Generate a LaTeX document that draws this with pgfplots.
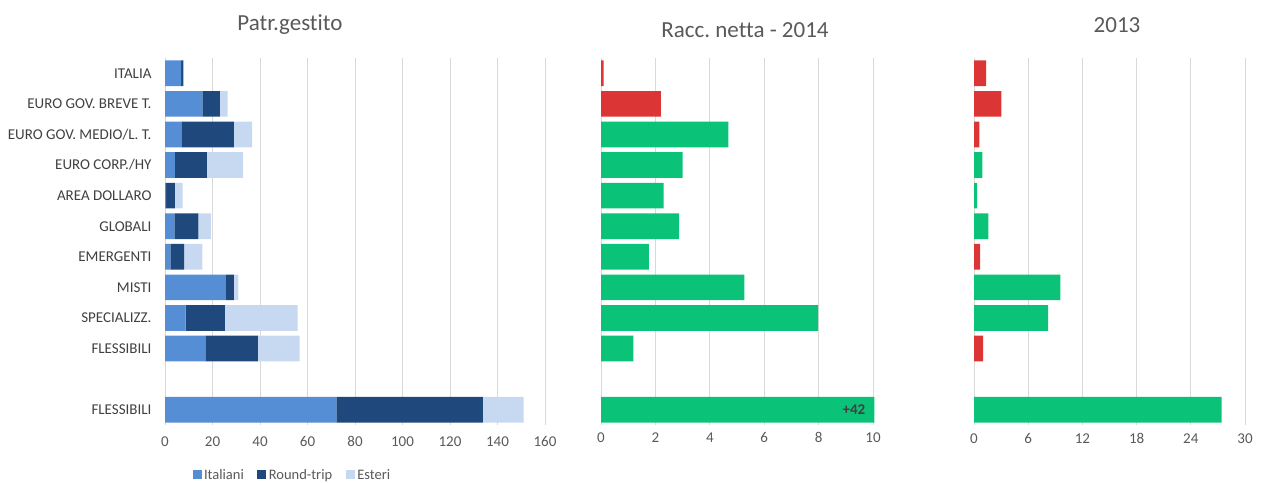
\documentclass[border=0pt]{standalone}
\usepackage{pgfplots}
\pgfplotsset{compat=1.18}
\usepackage{pgfplotstable}
\usepackage{fontspec}
\setmainfont{Carlito}[Ligatures=NoCommon]
\frenchspacing
\definecolor{ital}{HTML}{558ED5}
\definecolor{rt}{HTML}{1F497D}
\definecolor{est}{HTML}{C6D9F1}
\definecolor{neg}{HTML}{DC3535}
\definecolor{pos}{HTML}{0AC378}
\definecolor{gridc}{HTML}{D9D9D9}
\definecolor{txt}{HTML}{595959}
\definecolor{lab}{HTML}{404040}
\pgfplotstableread{
y ital rt est
0 6.8 0.9 0
1 15.7 7.4 3.3
2 6.9 22.1 7.7
3 4.2 13.4 15.3
4 0.5 3.7 3.2
5 3.9 10.1 5.3
6 2.3 5.7 7.7
7 25.6 3.4 1.9
8 8.7 16.5 30.6
9 17.0 22.1 17.6
11 72.2 61.6 17.2
}\patr
\pgfplotsset{
  common/.style={
    scale only axis, height=367pt,
    ymin=-0.5, ymax=11.5, y dir=reverse,
    xmajorgrids, grid style={draw=gridc, line width=0.9pt},
    axis line style={draw=none}, major tick length=0pt,
    tick label style={font=\fontsize{15}{17}\selectfont, text=txt},
    /pgf/number format/assume math mode=true,
    bar width=0.84, clip=false,
  },
}
\begin{document}
\begin{tikzpicture}[x=1pt,y=1pt]
\useasboundingbox (0,0) rectangle (1263,482);
% left panel
\begin{axis}[common,
  at={(165pt,57pt)}, anchor=south west, width=380pt,
  xbar stacked, xmin=0, xmax=160, xtick={0,20,...,160},
  ytick={0,1,2,3,4,5,6,7,8,9,11},
  yticklabels={ITALIA,EURO GOV. BREVE T.,EURO GOV. MEDIO/L. T.,EURO CORP./HY,AREA DOLLARO,GLOBALI,EMERGENTI,MISTI,SPECIALIZZ.,FLESSIBILI,FLESSIBILI},
  yticklabel style={xshift=-10pt, text=lab},
  xticklabel style={yshift=-8pt},
  legend columns=3,
  legend style={at={(0.072,-0.136)}, anchor=west, draw=none, fill=none,
    inner sep=0pt, font=\fontsize{14.5}{16}\selectfont, text=txt,
    nodes={inner sep=2.5pt},
    /tikz/every even column/.append style={column sep=11pt}},
  legend image code/.code={\fill[#1,draw=none] (0pt,-4.5pt) rectangle (9pt,4.5pt);},
]
\addplot[fill=ital, draw=none] table[x=ital, y=y] {\patr};
\addplot[fill=rt, draw=none] table[x=rt, y=y] {\patr};
\addplot[fill=est, draw=none] table[x=est, y=y] {\patr};
\legend{Italiani, Round-trip, Esteri}
\end{axis}
% middle panel
\begin{axis}[common,
  at={(601pt,57pt)}, anchor=south west, width=272pt,
  xbar, bar shift=0pt, xmin=0, xmax=10, xtick={0,2,...,10},
  ytick=\empty,
  xticklabel style={yshift=-4pt},
]
\addplot[fill=neg, draw=none] coordinates {(0.1,0) (2.2,1)};
\addplot[fill=pos, draw=none] coordinates {(4.68,2) (3.0,3) (2.3,4) (2.87,5) (1.76,6) (5.27,7) (7.98,8) (1.19,9) (10.05,11)};
\node[font=\bfseries\fontsize{15}{17}\selectfont, text=lab] at (axis cs:9.3,11) {+42};
\end{axis}
% right panel
\begin{axis}[common,
  at={(974pt,57pt)}, anchor=south west, width=271pt,
  xbar, bar shift=0pt, xmin=0, xmax=30, xtick={0,6,...,30},
  ytick=\empty,
  xticklabel style={yshift=-5pt},
]
\addplot[fill=neg, draw=none] coordinates {(1.35,0) (3.04,1) (0.58,2) (0.68,6) (1.01,9)};
\addplot[fill=pos, draw=none] coordinates {(0.92,3) (0.34,4) (1.59,5) (9.55,7) (8.2,8) (27.4,11)};
\end{axis}
% titles
\node[font=\fontsize{23}{26}\selectfont, text=txt] at (290,457) {Patr.gestito};
\node[font=\fontsize{23}{26}\selectfont, text=txt] at (745,452) {Racc. netta - 2014};
\node[font=\fontsize{23}{26}\selectfont, text=txt] at (1117,457) {2013};
\end{tikzpicture}
\end{document}
